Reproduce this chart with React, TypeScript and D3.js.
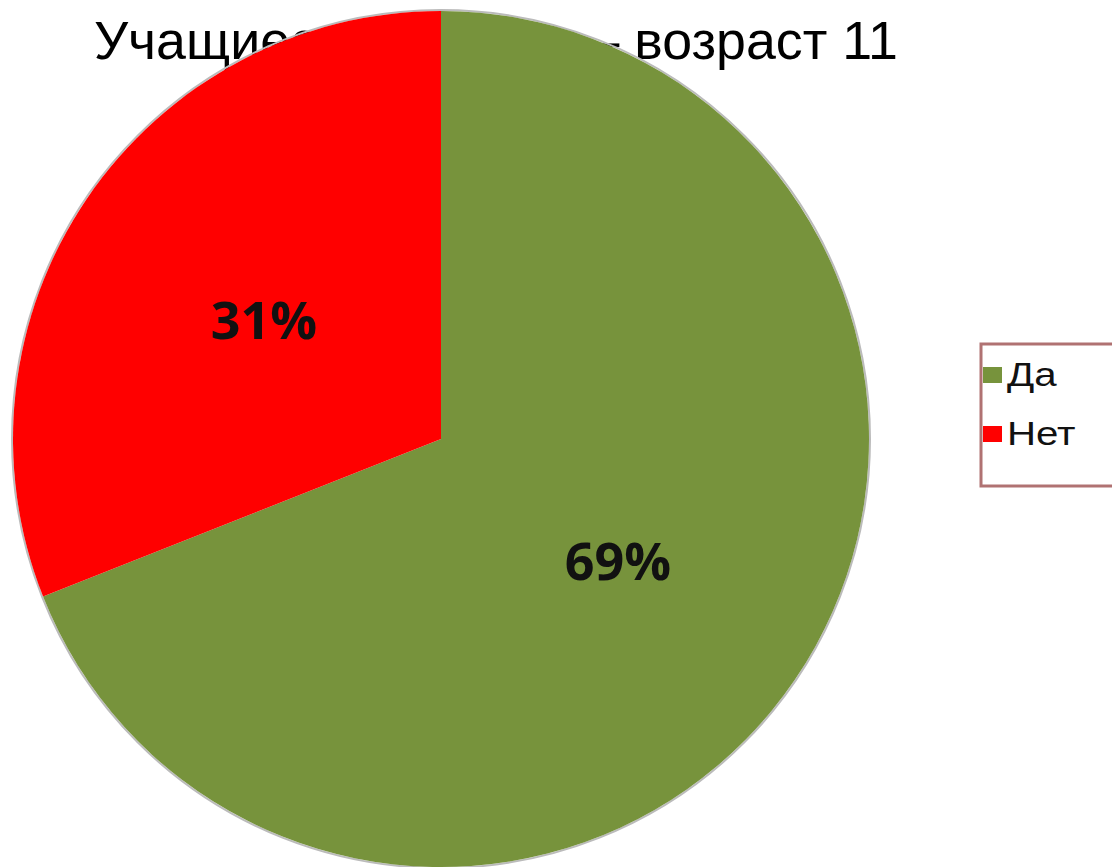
import React from "react";
import * as d3 from "d3";

const categories = ["Да", "Нет"];
const values = [69, 31];
const colors = ["#77933C", "#FF0000"];
const title = "Учащиеся 5 класса – возраст 11";

export default function App() {
  const W = 1112, H = 867;
  const cx = 441, cy = 439, r = 428;
  const pie = d3.pie<number>().sort(null).value((d) => d)(values);
  const arc = d3.arc<d3.PieArcDatum<number>>().innerRadius(0).outerRadius(r);
  const labelArc = d3.arc<d3.PieArcDatum<number>>().innerRadius(r * 0.5).outerRadius(r * 0.5);
  const total = d3.sum(values);
  return (
    <svg width={W} height={H} style={{ position: "absolute", left: 0, top: 0, background: "#fff" }}>
      <text x={94} y={59} fontFamily="'Liberation Sans', Arial, sans-serif" fontSize={53}
        textLength={804} lengthAdjust="spacingAndGlyphs" fill="#000">
        {title}
      </text>
      <g transform={`translate(${cx},${cy})`}>
        <circle r={r + 1} fill="none" stroke="#bbb" strokeWidth={2} />
        {pie.map((p, i) => (
          <path key={i} d={arc(p) || ""} fill={colors[i]} />
        ))}
        {pie.map((p, i) => {
          const [x, y] = labelArc.centroid(p);
          return (
            <text key={"l" + i} x={x} y={y} textAnchor="middle" dominantBaseline="central"
              fontFamily="'Open Sans', sans-serif" fontWeight="bold" fontSize={52} fill="#111">
              {Math.round((values[i] / total) * 100) + "%"}
            </text>
          );
        })}
      </g>
      <rect x={981} y={344} width={140} height={142} fill="#fff" stroke="#B07272" strokeWidth={3} />
      {categories.map((c, i) => (
        <g key={c} transform={`translate(983, ${375 + i * 59})`}>
          <rect x={0} y={-8} width={19} height={16} fill={colors[i]} />
          <text x={0} y={0} transform="translate(24,0) scale(1.22,1)" dominantBaseline="central"
            fontFamily="'Liberation Sans', Arial, sans-serif" fontSize={33} fill="#111">
            {c}
          </text>
        </g>
      ))}
    </svg>
  );
}
